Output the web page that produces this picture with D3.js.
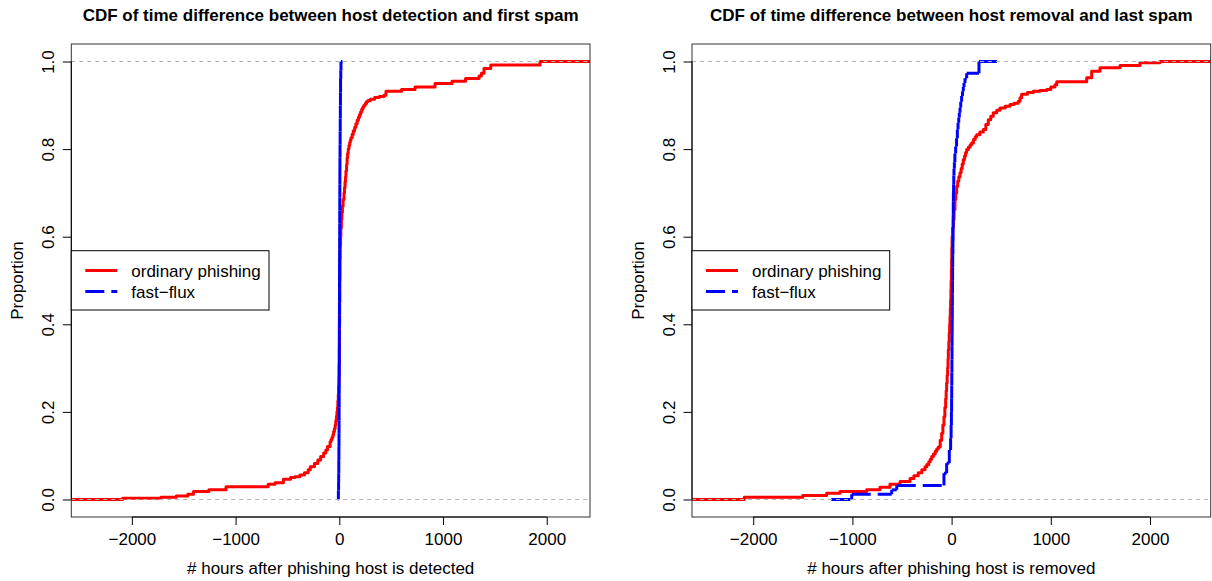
<!DOCTYPE html>
<html>
<head>
<meta charset="utf-8">
<script src="https://cdn.jsdelivr.net/npm/d3@7.9.0/dist/d3.min.js"></script>
<style>
  body { margin: 0; background: #fff; }
  svg { display: block; font-family: "Liberation Sans", Arial, Helvetica, sans-serif; }
</style>
</head>
<body>
<svg id="chart" width="1212" height="581"></svg>
<script>
// ---- data ----
const titles = [
  'CDF of time difference between host detection and first spam',
  'CDF of time difference between host removal and last spam'
];
const xLabels = [
  '# hours after phishing host is detected',
  '# hours after phishing host is removed'
];
const yLabel = 'Proportion';
const legendLabels = ['ordinary phishing', 'fast\u2212flux'];
const hourTicks = [-2000, -1000, 0, 1000, 2000];
const propTicks = [0, 0.2, 0.4, 0.6, 0.8, 1.0];

// step points [hour, proportion]: value of the CDF from that hour onwards
const detectOrdinary = [
  [-3000, 0], [-2089, 0.003], [-1720, 0.005], [-1572, 0.008], [-1461, 0.012], [-1406, 0.018],
  [-1258, 0.022], [-1092, 0.029], [-686, 0.035], [-620, 0.038], [-539, 0.046], [-470, 0.05],
  [-428, 0.052], [-380, 0.056], [-336, 0.061], [-300, 0.068], [-280, 0.075], [-240, 0.082],
  [-207, 0.09], [-180, 0.098], [-151, 0.106], [-130, 0.113], [-114, 0.121], [-89, 0.132],
  [-80, 0.137], [-70, 0.142], [-62, 0.148], [-55, 0.155], [-47, 0.162], [-40, 0.17],
  [-34, 0.18], [-28, 0.19], [-23, 0.2], [-18, 0.21], [-14, 0.225], [-10, 0.24], [-7, 0.26],
  [-4, 0.28], [-2, 0.31], [0, 0.35], [1, 0.4], [3, 0.45], [5, 0.5], [7, 0.55], [9, 0.58],
  [12, 0.6], [15, 0.62], [20, 0.64], [25, 0.655], [30, 0.67], [37, 0.685], [45, 0.7],
  [50, 0.712], [55, 0.725], [60, 0.737], [64, 0.75], [70, 0.765], [75, 0.78], [80, 0.79],
  [86, 0.8], [93, 0.808], [100, 0.815], [106, 0.82], [112, 0.826], [124, 0.834], [135, 0.842],
  [148, 0.85], [160, 0.858], [172, 0.866], [184, 0.873], [195, 0.879], [205, 0.885],
  [216, 0.891], [227, 0.896], [238, 0.9], [250, 0.904], [262, 0.908], [275, 0.911],
  [300, 0.914], [340, 0.918], [385, 0.92], [431, 0.923], [450, 0.932], [600, 0.936],
  [730, 0.942], [923, 0.95], [1087, 0.955], [1217, 0.961], [1347, 0.967], [1370, 0.973],
  [1395, 0.984], [1460, 0.992], [1935, 1.0], [3000, 1.0]
];

const detectFlux = [
  [-14, 0], [-9, 0.02], [-7, 0.04], [-6, 0.06], [-5, 0.09], [-4, 0.12], [-3, 0.15],
  [-2.5, 0.18], [-2, 0.21], [-1.5, 0.24], [-1, 0.27], [-0.5, 0.30], [0, 0.33], [0.3, 0.36],
  [0.6, 0.39], [1, 0.42], [1.3, 0.45], [1.6, 0.48], [2, 0.51], [2.4, 0.54], [2.8, 0.57],
  [3.2, 0.60], [3.6, 0.63], [4, 0.66], [4.5, 0.69], [5, 0.72], [5.5, 0.75], [6, 0.78],
  [7, 0.81], [8, 0.84], [9, 0.87], [10, 0.90], [11, 0.93], [12, 0.96], [14, 0.98],
  [16, 1.0], [30, 1.0]
];

const removeOrdinary = [
  [-3000, 0], [-2090, 0.005], [-1500, 0.009], [-1260, 0.014], [-1125, 0.018], [-856, 0.022],
  [-722, 0.028], [-621, 0.035], [-520, 0.041], [-419, 0.048], [-380, 0.054], [-336, 0.061],
  [-300, 0.068], [-268, 0.075], [-250, 0.08], [-230, 0.086], [-215, 0.092], [-201, 0.098],
  [-183, 0.104], [-165, 0.11], [-150, 0.115], [-134, 0.12], [-115, 0.135], [-100, 0.151],
  [-88, 0.17], [-77, 0.189], [-68, 0.21], [-60, 0.23], [-55, 0.248], [-50, 0.266],
  [-45, 0.283], [-40, 0.3], [-36, 0.32], [-33, 0.342], [-28, 0.36], [-24, 0.38], [-20, 0.4],
  [-16, 0.418], [-13, 0.437], [-10, 0.456], [-7, 0.48], [-5, 0.5], [-2, 0.525], [0, 0.55],
  [2, 0.575], [5, 0.6], [10, 0.62], [17, 0.639], [25, 0.662], [34, 0.685], [42, 0.7],
  [51, 0.715], [62, 0.727], [73, 0.737], [85, 0.746], [96, 0.756], [107, 0.766], [118, 0.776],
  [130, 0.784], [141, 0.792], [152, 0.799], [170, 0.805], [188, 0.81], [202, 0.814],
  [220, 0.822], [238, 0.828], [253, 0.833], [285, 0.839], [320, 0.845], [345, 0.856],
  [370, 0.867], [395, 0.875], [420, 0.883], [455, 0.889], [488, 0.894], [540, 0.898],
  [589, 0.902], [630, 0.905], [672, 0.909], [690, 0.917], [706, 0.925], [765, 0.929],
  [824, 0.932], [890, 0.934], [959, 0.936], [1000, 0.942], [1042, 0.947], [1060, 0.954],
  [1362, 0.963], [1412, 0.978], [1496, 0.986], [1698, 0.991], [1899, 0.997], [2100, 1.0],
  [3000, 1.0]
];

const removeFlux = [
  [-1213, 0], [-1007, 0.012], [-604, 0.022], [-553, 0.032], [-77, 0.06], [-50, 0.083],
  [-23, 0.113], [-10, 0.14], [-5, 0.17], [-2, 0.2], [0, 0.23], [1, 0.26], [2, 0.29],
  [3, 0.32], [4, 0.35], [5, 0.38], [6, 0.41], [7, 0.44], [8, 0.47], [9, 0.5], [10, 0.53],
  [11, 0.56], [13, 0.59], [15, 0.62], [16, 0.65], [17, 0.68], [18, 0.70], [20, 0.72],
  [22, 0.74], [24, 0.755], [28, 0.77], [33, 0.79], [41, 0.806], [50, 0.825], [58, 0.845],
  [65, 0.86], [72, 0.872], [78, 0.883], [85, 0.895], [92, 0.908], [101, 0.921], [110, 0.932],
  [118, 0.942], [125, 0.951], [135, 0.962], [152, 0.973], [276, 1.0], [458, 1.0]
];

// ---- layout ----
const plotTop = 44, plotBottom = 517;
const panels = [
  { left: 71.3, right: 590, domain: [-2584, 2417], title: titles[0], xlab: xLabels[0],
    ordinary: detectOrdinary, flux: detectFlux },
  { left: 692, right: 1210.7, domain: [-2617, 2612], title: titles[1], xlab: xLabels[1],
    ordinary: removeOrdinary, flux: removeFlux }
];

const svg = d3.select('#chart');
const fontSize = 17;
const red = '#ff0000';
const blue = '#0000ff';
const fluxDash = '19,7';

// split a step function into horizontal and vertical pieces, like R's segments()
function stepSegments(points) {
  let segs = [];
  for (let i = 0; i < points.length - 1; i++) {
    let [h0, p0] = points[i];
    let [h1, p1] = points[i + 1];
    segs.push([h0, p0, h1, p0]);
    if (p1 !== p0) segs.push([h1, p0, h1, p1]);
  }
  return segs;
}

panels.forEach((p, k) => {
  let x = d3.scaleLinear().domain(p.domain).range([p.left, p.right]);
  let y = d3.scaleLinear().domain([-0.04, 1.04]).range([plotBottom, plotTop]);

  let g = svg.append('g');

  g.append('clipPath').attr('id', 'clip' + k)
    .append('rect')
    .attr('x', p.left).attr('y', plotTop)
    .attr('width', p.right - p.left).attr('height', plotBottom - plotTop);

  let plot = g.append('g').attr('clip-path', `url(#clip${k})`);

  // ordinary phishing: solid red step curve
  let line = d3.line()
    .x((d) => x(d[0]))
    .y((d) => y(d[1]))
    .curve(d3.curveStepAfter);

  plot.append('path')
    .datum(p.ordinary)
    .attr('d', line)
    .attr('fill', 'none')
    .attr('stroke', red)
    .attr('stroke-width', 3)
    .attr('stroke-linejoin', 'round');

  // fast-flux: each piece dashed on its own
  plot.selectAll('line.flux')
    .data(stepSegments(p.flux))
    .join('line')
    .attr('class', 'flux')
    .attr('x1', (d) => x(d[0]))
    .attr('y1', (d) => y(d[1]))
    .attr('x2', (d) => x(d[2]))
    .attr('y2', (d) => y(d[3]))
    .attr('stroke', blue)
    .attr('stroke-width', 3)
    .attr('stroke-dasharray', fluxDash);

  // dashed reference lines at 0 and 1
  plot.selectAll('line.ref')
    .data([0, 1])
    .join('line')
    .attr('class', 'ref')
    .attr('x1', p.left).attr('x2', p.right)
    .attr('y1', (d) => y(d)).attr('y2', (d) => y(d))
    .attr('stroke', '#b3b3b3')
    .attr('stroke-width', 1)
    .attr('stroke-dasharray', '4,4');

  // box
  g.append('rect')
    .attr('x', p.left).attr('y', plotTop)
    .attr('width', p.right - p.left).attr('height', plotBottom - plotTop)
    .attr('fill', 'none')
    .attr('stroke', '#333')
    .attr('stroke-width', 1);

  // x axis
  let xAxis = g.append('g')
    .attr('transform', `translate(0,${plotBottom})`)
    .call(d3.axisBottom(x).tickValues(hourTicks).tickSize(8).tickPadding(8).tickFormat(d3.format('d')));
  xAxis.select('.domain').remove();
  xAxis.append('line')
    .attr('x1', x(hourTicks[0])).attr('x2', x(hourTicks[hourTicks.length - 1]))
    .attr('stroke', '#000');
  xAxis.selectAll('text')
    .text((d) => d < 0 ? '\u2212' + Math.abs(d) : d)
    .attr('font-size', fontSize)
    .attr('font-family', null)
    .attr('fill', '#000');

  // y axis, labels turned as in R
  let yAxis = g.append('g')
    .attr('transform', `translate(${p.left},0)`)
    .call(d3.axisLeft(y).tickValues(propTicks).tickSize(8.5).tickFormat(d3.format('.1f')));
  yAxis.select('.domain').remove();
  yAxis.append('line')
    .attr('y1', y(0)).attr('y2', y(1))
    .attr('stroke', '#000');
  yAxis.selectAll('text')
    .attr('x', null)
    .attr('dy', null)
    .attr('transform', 'translate(-17.3,0) rotate(-90)')
    .attr('text-anchor', 'middle')
    .attr('font-size', fontSize)
    .attr('font-family', null)
    .attr('fill', '#000');

  // titles and labels
  let cx = (p.left + p.right) / 2;
  g.append('text')
    .attr('x', cx).attr('y', 21)
    .attr('text-anchor', 'middle')
    .attr('font-weight', 'bold')
    .attr('font-size', fontSize)
    .text(p.title);

  g.append('text')
    .attr('x', cx).attr('y', 574)
    .attr('text-anchor', 'middle')
    .attr('font-size', fontSize)
    .text(p.xlab);

  g.append('text')
    .attr('transform', `translate(${p.left - 48.3},${y(0.5)}) rotate(-90)`)
    .attr('text-anchor', 'middle')
    .attr('font-size', fontSize)
    .text(yLabel);

  // legend
  let legend = g.append('g').attr('transform', `translate(${p.left},${y(0.5)})`);
  legend.append('rect')
    .attr('x', 0).attr('y', -29.8)
    .attr('width', 197.7).attr('height', 59.3)
    .attr('fill', '#fff')
    .attr('stroke', '#000')
    .attr('stroke-width', 1);

  legendLabels.forEach((label, i) => {
    let rowY = i === 0 ? -10 : 11;
    legend.append('line')
      .attr('x1', 14).attr('x2', 46)
      .attr('y1', rowY).attr('y2', rowY)
      .attr('stroke', i === 0 ? red : blue)
      .attr('stroke-width', 3)
      .attr('stroke-dasharray', i === 0 ? null : fluxDash);
    legend.append('text')
      .attr('x', 60).attr('y', rowY + 6)
      .attr('font-size', fontSize)
      .text(label);
  });
});
</script>
</body>
</html>
